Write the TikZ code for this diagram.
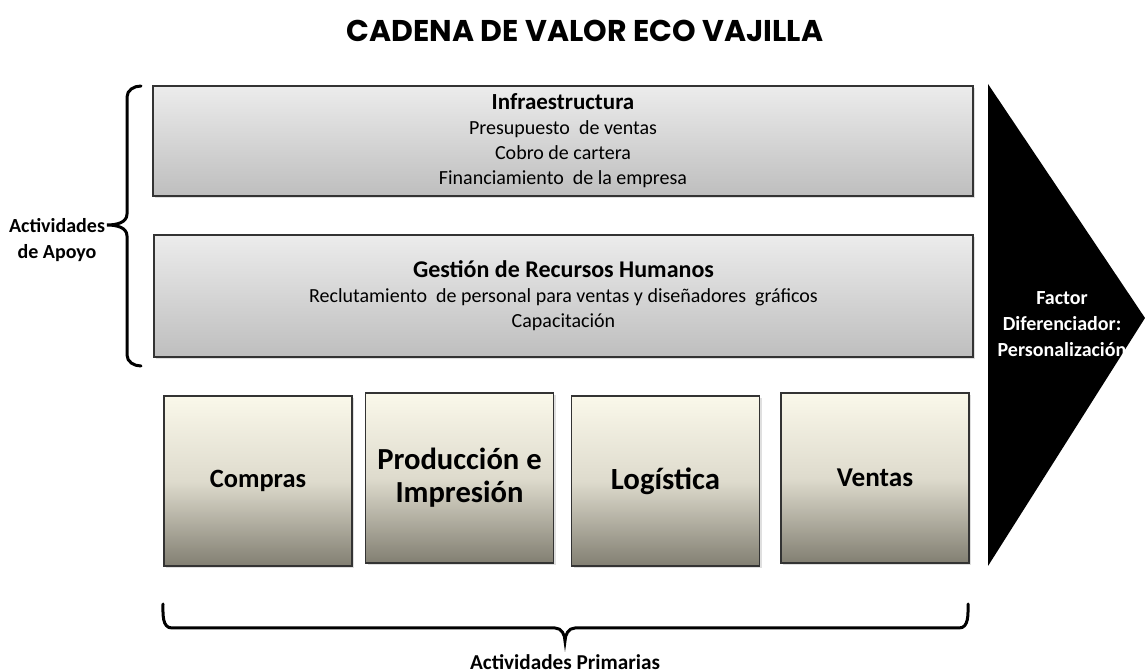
\documentclass[tikz,border=0pt]{standalone}
\usepackage{fontspec}
\setmainfont{Carlito}
\newfontfamily\titlefont{Poppins}
\usetikzlibrary{shadows}
\definecolor{suptop}{RGB}{236,236,236}
\definecolor{supbot}{RGB}{190,190,190}
\definecolor{primtop}{RGB}{250,248,234}
\definecolor{primmid}{RGB}{222,219,205}
\definecolor{primbot}{RGB}{130,127,114}
\tikzset{
  supbox/.style={draw=black!80, line width=0.8pt, top color=suptop, bottom color=supbot,
    drop shadow={opacity=0.25, shadow xshift=1pt, shadow yshift=-1pt},
    align=center, font=\fontsize{10}{12.5}\selectfont},
  primbox/.style={draw=black!80, line width=0.8pt, top color=primtop, bottom color=primbot,
    middle color=primmid, drop shadow={opacity=0.25, shadow xshift=1pt, shadow yshift=-1pt},
    align=center, minimum width=94pt, minimum height=85pt},
  lbl/.style={font=\bfseries\fontsize{10}{13}\selectfont, align=center},
  brace/.style={line width=1.5pt, line cap=round}
}
\begin{document}
\begin{tikzpicture}[x=0.5pt, y=-0.5pt]
\useasboundingbox (0,0) rectangle (1145,672);
\node (title) at (585,31) {\titlefont\bfseries\fontsize{15}{18}\selectfont CADENA DE VALOR ECO VAJILLA};

% actividades de apoyo
\node[supbox, minimum width=410pt, minimum height=55pt] (infra) at (563,141)
  {{\bfseries\fontsize{11.5}{12.5}\selectfont Infraestructura}\\Presupuesto\ \ de ventas\\Cobro de cartera\\Financiamiento\ \ de la empresa};
\node[supbox, minimum width=409.5pt, minimum height=61pt] (rrhh) at (563.5,296)
  {{\bfseries\fontsize{12}{12.5}\selectfont Gesti\'on de Recursos Humanos}\\Reclutamiento\ \ de personal para ventas y dise\~nadores\ \ gr\'aficos\\Capacitaci\'on};

% actividades primarias
\node[primbox, font=\bfseries\fontsize{13.2}{15}\selectfont] (compras) at (258,481) {Compras};
\node[primbox, font=\bfseries\fontsize{15.3}{16.5}\selectfont] (prod) at (459.5,478) {Producci\'on e\\Impresi\'on};
\node[primbox, font=\bfseries\fontsize{15.4}{17}\selectfont] (logist) at (665.5,481) {Log\'istica};
\node[primbox, font=\bfseries\fontsize{13.6}{15}\selectfont] (ventas) at (875,478) {Ventas};

% margen
\fill (988,84) -- (1145,318) -- (988,566) -- cycle;
\node[lbl, text=white] (factor) at (1062,324) {Factor\\Diferenciador:\\Personalizaci\'on};

% llaves
\draw[brace] (141,86) to[out=180,in=90] (127,97) -- (127,214) to[out=-90,in=0] (107,225)
  to[out=0,in=90] (127,236) -- (127,355) to[out=-90,in=180] (141,366);
\node[lbl] (apoyo) at (57,240) {Actividades\\de Apoyo};
\draw[brace] (163,604) to[out=-90,in=180] (172,628) -- (555,628) to[out=0,in=90] (565,641)
  to[out=90,in=180] (575,628) -- (959,628) to[out=0,in=-90] (968,604);
\node[lbl, font=\bfseries\fontsize{10.6}{13}\selectfont] (prim) at (565,662) {Actividades Primarias};
\end{tikzpicture}
\end{document}
